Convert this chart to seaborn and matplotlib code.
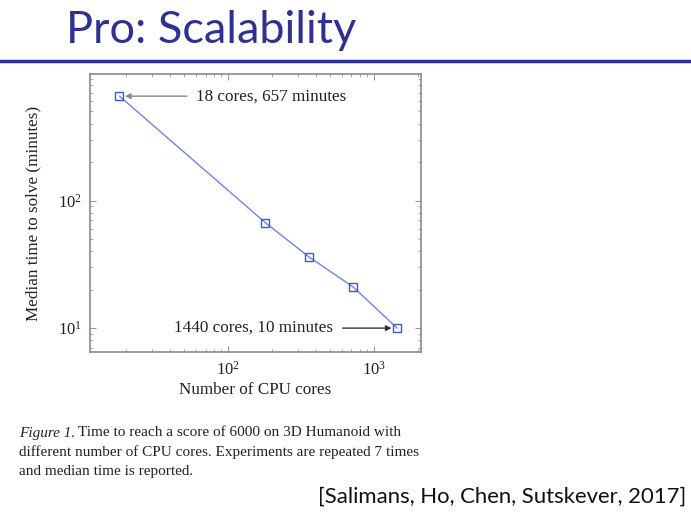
import matplotlib
matplotlib.use("Agg")
import matplotlib.pyplot as plt
import seaborn as sns
import pandas as pd
from matplotlib.ticker import LogLocator, NullFormatter

cores = [18, 180, 360, 720, 1440]
minutes = [657, 67, 36, 21, 10]
title = "Pro: Scalability"
xlabel = "Number of CPU cores"
ylabel = "Median time to solve (minutes)"
ann_top = "18 cores, 657 minutes"
ann_bottom = "1440 cores, 10 minutes"
caption_lines = ["Time to reach a score of 6000 on 3D Humanoid with",
                 "different number of CPU cores. Experiments are repeated 7 times",
                 "and median time is reported."]
citation = "[Salimans, Ho, Chen, Sutskever, 2017]"

sns.set_style("white")
plt.rcParams['font.family'] = ['Liberation Serif', 'DejaVu Serif']
plt.rcParams['mathtext.fontset'] = 'stix'

df = pd.DataFrame({"cores": cores, "minutes": minutes})

fig = plt.figure(figsize=(6.91, 5.27), dpi=100)
ax = fig.add_axes([90/691, 1-352/527, (421-90)/691, (352-74)/527])

sns.lineplot(data=df, x="cores", y="minutes", ax=ax, color="#7484d8", linewidth=1.0,
             marker="s", markersize=6, markerfacecolor="none",
             markeredgecolor="#3f55d4", markeredgewidth=1.0)
ax.set_xscale("log")
ax.set_yscale("log")
ax.set_xlim(11.3, 2100)
ax.set_ylim(6.5, 980)

ax.xaxis.set_major_locator(LogLocator(base=10, numticks=10))
ax.yaxis.set_major_locator(LogLocator(base=10, numticks=10))
ax.xaxis.set_minor_locator(LogLocator(base=10, subs=range(2, 10), numticks=20))
ax.yaxis.set_minor_locator(LogLocator(base=10, subs=range(2, 10), numticks=20))
ax.xaxis.set_minor_formatter(NullFormatter())
ax.yaxis.set_minor_formatter(NullFormatter())
ax.tick_params(which="both", direction="in", top=True, right=True, bottom=True, left=True,
               colors="#999999", labelcolor="#222222", labelsize=12)
ax.tick_params(which="major", length=4, width=0.8, pad=6)
ax.tick_params(which="minor", length=2, width=0.6)
for s in ax.spines.values():
    s.set_color("#8a8a8a")
    s.set_linewidth(1.2)

ax.set_xlabel(xlabel, fontsize=12.3, color="#222222", labelpad=3)
ax.set_ylabel(ylabel, fontsize=12.3, color="#222222", labelpad=12)

ax.annotate(ann_top, xy=(cores[0], minutes[0]), xytext=(60, minutes[0]),
            ha="left", va="center", fontsize=12.3, color="#222222",
            arrowprops=dict(arrowstyle="-|>", color="#888888", lw=1.0,
                            shrinkA=4, shrinkB=4, mutation_scale=8))
ax.annotate(ann_bottom, xy=(cores[-1], minutes[-1]), xytext=(520, minutes[-1]),
            ha="right", va="center", fontsize=12.3, color="#222222",
            arrowprops=dict(arrowstyle="-|>", color="#333333", lw=1.0,
                            shrinkA=5, shrinkB=4, mutation_scale=8))

# slide title and rule
fig.text(66/691, 1-43/527, title, fontsize=32.5, color="#2e3192",
         family=["Lato", "DejaVu Sans"], ha="left", va="baseline")
fig.add_artist(plt.Line2D([0, 1], [1-61/527, 1-61/527], transform=fig.transFigure,
                          color="#2e3192", linewidth=2.5))

# caption
fig.canvas.draw()
renderer = fig.canvas.get_renderer()
x0 = 19/691
ys = [1-433/527, 1-452/527, 1-471/527]
cfs = 11.0
t = fig.text(x0, ys[0], "Figure 1.", fontsize=cfs, style="italic", color="#222222",
             ha="left", va="center")
bb = t.get_window_extent(renderer=renderer)
x1 = (bb.x1 + 3) / fig.bbox.width
fig.text(x1, ys[0], caption_lines[0], fontsize=cfs, color="#222222", ha="left", va="center")
fig.text(x0, ys[1], caption_lines[1], fontsize=cfs, color="#222222", ha="left", va="center")
fig.text(x0, ys[2], caption_lines[2], fontsize=cfs, color="#222222", ha="left", va="center")

fig.text(686/691, 1-497/527, citation, fontsize=15.9, color="#111111",
         family=["Lato", "DejaVu Sans"], ha="right", va="center")

fig.savefig("out.png", dpi=100)
